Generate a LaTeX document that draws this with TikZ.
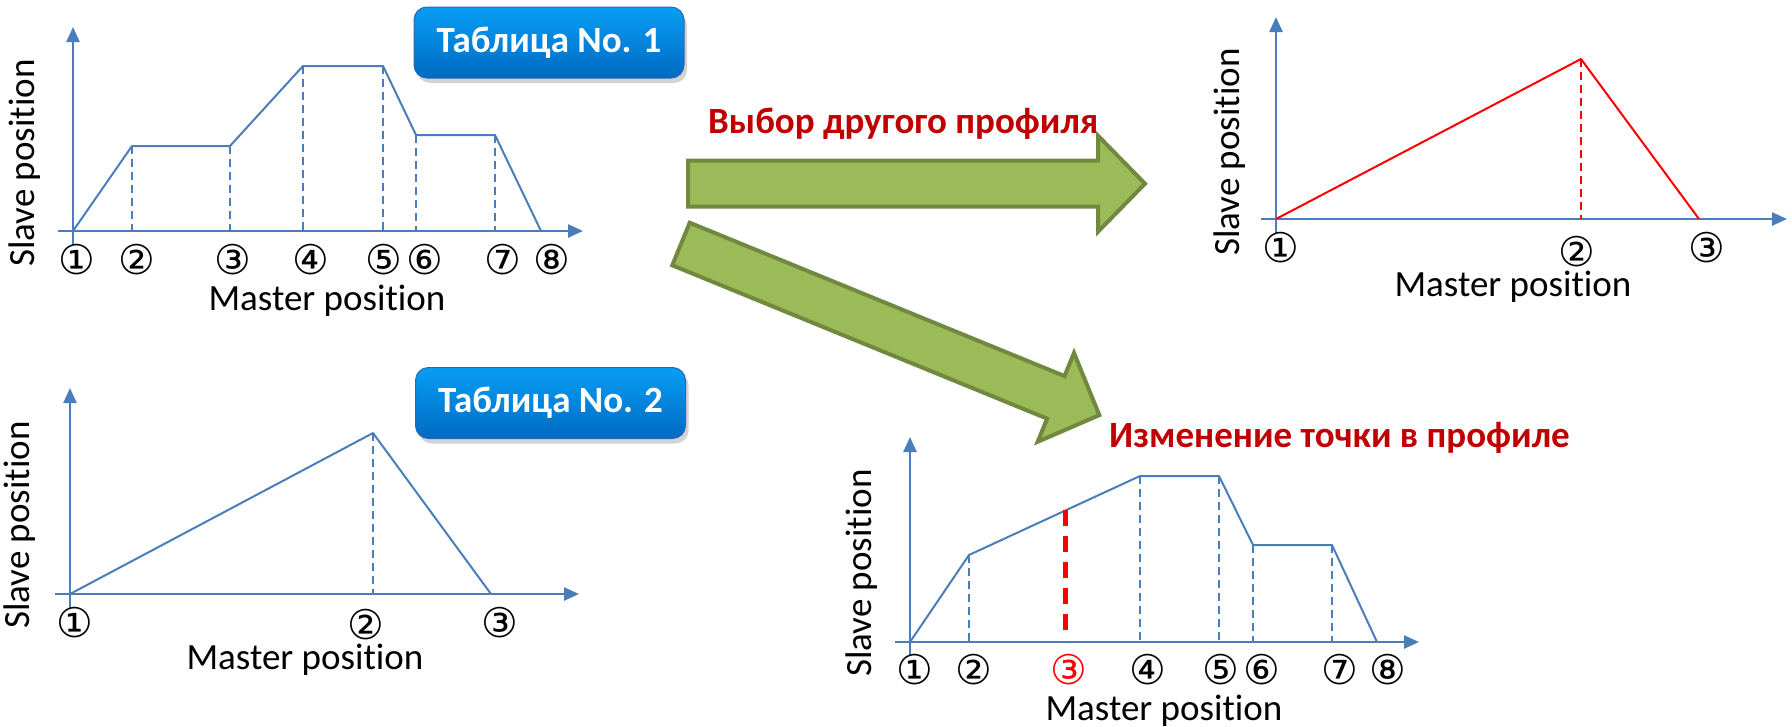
\documentclass[tikz,border=0pt]{standalone}
\usepackage{fontspec}
\setmainfont[Ligatures=NoCommon]{Carlito}
\newfontfamily\circledFont{DejaVu Sans}
\usetikzlibrary{arrows.meta,shadows,calc}
\definecolor{axisColor}{RGB}{74,126,187}
\definecolor{profileRed}{RGB}{255,0,0}
\definecolor{captionRed}{RGB}{192,0,0}
\definecolor{arrowFill}{RGB}{155,187,89}
\definecolor{arrowBorder}{RGB}{113,137,63}
\definecolor{boxTop}{RGB}{8,158,244}
\definecolor{boxBottom}{RGB}{0,106,194}
\definecolor{boxBorder}{RGB}{38,104,180}
\newcommand{\titleSize}{\fontsize{37}{44}\selectfont}
\tikzstyle{canvas} = [x=1pt, y=-1pt]
\tikzstyle{axisLine} = [color=axisColor, line width=2.5pt, -{Triangle[length=15pt,width=13pt]}]
\tikzstyle{profileBlue} = [color=axisColor, line width=2pt, line join=round]
\tikzstyle{profileRed} = [color=profileRed, line width=2pt, line join=round]
\tikzstyle{dropLine} = [color=axisColor, line width=2pt, dash pattern=on 8pt off 5pt]
\tikzstyle{dropLineRed} = [color=profileRed, line width=2pt, dash pattern=on 8pt off 5pt]
\tikzstyle{changedLine} = [color=profileRed, line width=5pt, dash pattern=on 16pt off 10pt]
\tikzstyle{pointLabel} = [font=\circledFont\fontsize{41}{41}\selectfont, inner sep=0pt]
\tikzstyle{axisTitle} = [font=\titleSize, inner sep=0pt]
\tikzstyle{captionText} = [font=\bfseries\titleSize, text=captionRed, inner sep=0pt]
\tikzstyle{tableBox} = [rounded corners=13pt, top color=boxTop, bottom color=boxBottom, draw=boxBorder, line width=1pt, minimum width=270pt, minimum height=71pt, text=white, font=\bfseries\titleSize, drop shadow={shadow xshift=3pt, shadow yshift=-5pt, opacity=0.35}]
\tikzstyle{blockArrowStyle} = [fill=arrowFill, draw=arrowBorder, line width=4pt, line join=miter]
% block arrow: tail centre x, tail centre y, angle, length
\newcommand{\blockArrow}[4]{\filldraw [blockArrowStyle, shift={(#1,#2)}, rotate=#3] (0,-23) -- (#4-47,-23) -- (#4-47,-48) -- (#4,0) -- (#4-47,48) -- (#4-47,23) -- (0,23) -- cycle;}
% axes: origin x, origin y, x tip, y tip
\newcommand{\profileAxes}[4]{
  \draw [axisLine] (#1 - 15, #2) -- (#3, #2);
  \draw [axisLine] (#1, #2 + 14) -- (#1, #4);
}

\begin{document}
\begin{tikzpicture}[canvas]
\useasboundingbox (0,0) rectangle (1792,726);

% Таблица No. 1
\profileAxes{73}{231}{583}{27}
\foreach \name/\px/\py in {a1/73/231, a2/132/146, a3/230/146, a4/303/66, a5/383/66, a6/416/135, a7/495/135, a8/541/231}
  \coordinate (\name) at (\px,\py);
\draw [profileBlue] (a1) -- (a2) -- (a3) -- (a4) -- (a5) -- (a6) -- (a7) -- (a8);
\foreach \p in {a2,a3,a4,a5,a6,a7}
  \draw [dropLine] (\p) -- (\p |- a1);
\foreach \px/\lab [count=\i] in {77/①, 137/②, 233/③, 311/④, 384/⑤, 425/⑥, 503/⑦, 552/⑧}
  \node [pointLabel] (labA\i) at (\px,260) {\lab};
\node [axisTitle, anchor=base] (masterA) at (327,310) {Master position};
\node [axisTitle, rotate=90] (slaveA) at (25,163) {Slave position};
\node [tableBox] (tableA) at (549,42.5) {Таблица No. 1};

% Таблица No. 2
\profileAxes{70}{594}{579}{388}
\foreach \name/\px/\py in {b1/70/594, b2/373/433, b3/491/594}
  \coordinate (\name) at (\px,\py);
\draw [profileBlue] (b1) -- (b2) -- (b3);
\draw [dropLine] (b2) -- (b2 |- b1);
\foreach \px/\py/\lab [count=\i] in {75/623/①, 366/625/②, 500/623/③}
  \node [pointLabel] (labB\i) at (\px,\py) {\lab};
\node [axisTitle, anchor=base] (masterB) at (305,669) {Master position};
\node [axisTitle, rotate=90] (slaveB) at (20,525) {Slave position};
\node [tableBox] (tableB) at (550.5,403) {Таблица No. 2};

% other profile
\profileAxes{1276}{219}{1787}{17}
\foreach \name/\px/\py in {c1/1276/219, c2/1581/59, c3/1699/219}
  \coordinate (\name) at (\px,\py);
\draw [profileRed] (c1) -- (c2) -- (c3);
\draw [dropLineRed] (c2) -- (c2 |- c1);
\foreach \px/\py/\lab [count=\i] in {1281/248/①, 1577/252/②, 1707/248/③}
  \node [pointLabel] (labC\i) at (\px,\py) {\lab};
\node [axisTitle, anchor=base] (masterC) at (1513,296) {Master position};
\node [axisTitle, rotate=90] (slaveC) at (1230,152) {Slave position};

% changed point
\profileAxes{910}{642}{1419}{437}
\foreach \name/\px/\py in {d1/910/642, d2/969/555, d4/1140/476, d5/1219/476, d6/1253/545, d7/1332/545, d8/1377/642}
  \coordinate (\name) at (\px,\py);
\coordinate (d3) at ($(d2)!0.567!(d4)$);
\draw [profileBlue] (d1) -- (d2) -- (d4) -- (d5) -- (d6) -- (d7) -- (d8);
\foreach \p in {d2,d4,d5,d6,d7}
  \draw [dropLine] (\p) -- (\p |- d1);
\draw [changedLine] (d3) -- ([yshift=5pt]d3 |- d1);
\foreach \px/\lab/\col [count=\i] in {915/①/black, 974/②/black, 1069/③/profileRed, 1148/④/black, 1221/⑤/black, 1262/⑥/black, 1340/⑦/black, 1388/⑧/black}
  \node [pointLabel, text=\col] (labD\i) at (\px,670) {\lab};
\node [axisTitle, anchor=base] (masterD) at (1164,720) {Master position};
\node [axisTitle, rotate=90] (slaveD) at (862,573) {Slave position};

% green arrows and captions
\blockArrow{688}{183.7}{0}{457}
\blockArrow{681}{244}{-22.25}{452}
\node [captionText, anchor=base west] (choiceText) at (708,133) {Выбор другого профиля};
\node [captionText, anchor=base west] (changeText) at (1109,447) {Изменение точки в профиле};
\end{tikzpicture}
\end{document}
